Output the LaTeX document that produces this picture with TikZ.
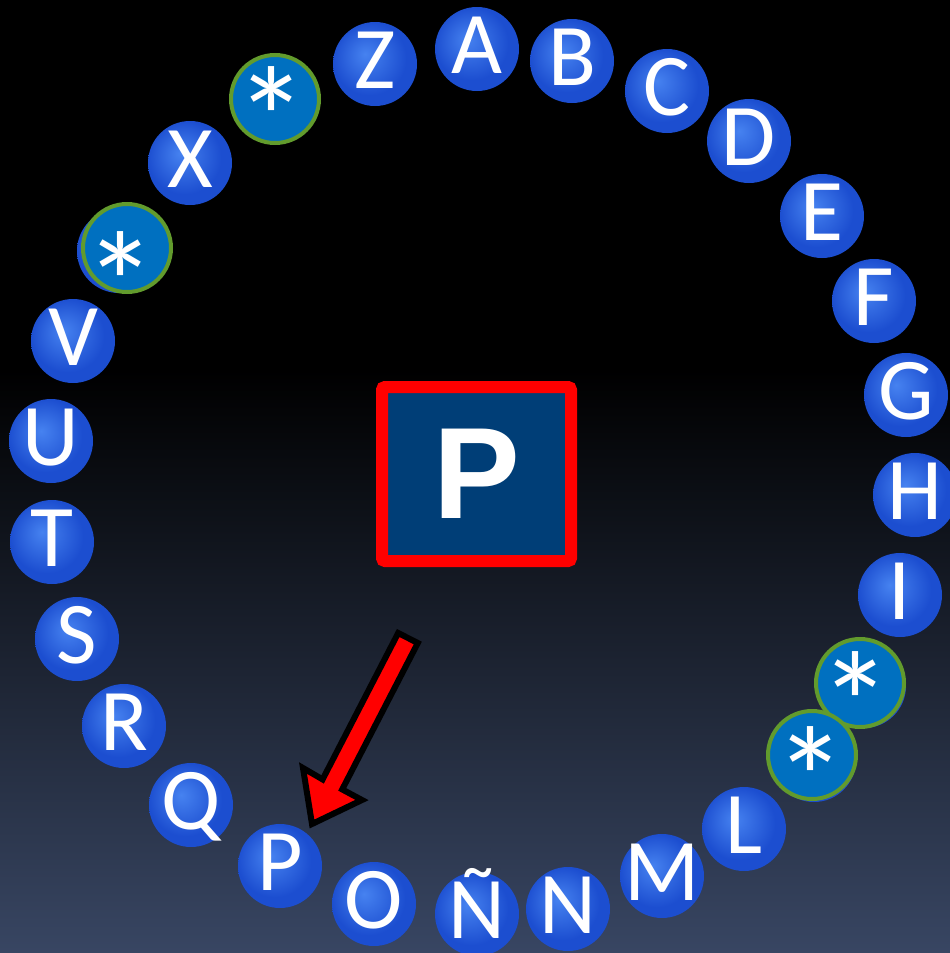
\documentclass[tikz,border=0pt]{standalone}
\usepackage{fontspec}
\newfontfamily\ballfont{Carlito}
\newfontfamily\boxfont{Liberation Sans}
\definecolor{ballhi}{RGB}{70,130,240}
\definecolor{ballmid}{RGB}{28,78,208}
\definecolor{balledge}{RGB}{16,46,155}
\definecolor{starfill}{RGB}{0,112,192}
\definecolor{starring}{RGB}{98,155,45}
\definecolor{boxfill}{RGB}{0,62,119}
\definecolor{bgbottom}{RGB}{74,92,130}
\pgfdeclareradialshading{ballshade}{\pgfpoint{-6bp}{6bp}}{color(0bp)=(ballhi); color(22bp)=(ballmid); color(42bp)=(ballmid); color(50bp)=(balledge)}
\newcommand\ltr[1]{\makebox[0pt]{\smash{\raisebox{-24pt}{\fontsize{88}{88}\ballfont\selectfont #1}}}}
\newcommand\astk[2]{\makebox[0pt]{\kern#1\relax\smash{\raisebox{#2}{\fontsize{145}{145}\ballfont\selectfont *}}\kern-#1\relax}}
\tikzset{
  ball/.style={circle, minimum size=84pt, inner sep=0pt, shading=ballshade, text=white},
  starball/.style={circle, minimum size=88pt, inner sep=0pt, fill=starfill, draw=starring, line width=4pt, text=white},
  pbox/.style={draw=red, line width=12pt, fill=boxfill, minimum width=189pt, minimum height=174pt, rounded corners=3pt, text=white, inner sep=0pt, font=\fontsize{130}{130}\boxfont\bfseries\selectfont},
  bigarrow/.style={fill=red, draw=black, line width=6pt, line join=miter}
}
\begin{document}
\begin{tikzpicture}[x=1pt,y=-1pt]
\clip (0,0) rectangle (950,953);
\fill[black] (0,0) rectangle (950,953);
\shade[top color=black, bottom color=bgbottom] (0,370) rectangle (950,1140);
% hidden balls behind stars
\node[ball] (W) at (119,251) {};
\node[ball] (J) at (864,686) {};
\node[ball] (K) at (814,760) {};
% letter balls
\node[ball] (A) at (477,49) {\ltr{A}};
\node[ball] (B) at (572,61) {\ltr{B}};
\node[ball] (C) at (667,91) {\ltr{C}};
\node[ball] (D) at (749,141) {\ltr{D}};
\node[ball] (E) at (822,216) {\ltr{E}};
\node[ball] (F) at (874,301) {\ltr{F}};
\node[ball] (G) at (906,395) {\ltr{G}};
\node[ball] (H) at (915,495) {\ltr{H}};
\node[ball] (I) at (900,595) {\ltr{I}};
\node[ball] (L) at (744,829) {\ltr{L}};
\node[ball] (M) at (662,876) {\ltr{M}};
\node[ball] (N) at (568,909) {\ltr{N}};
\node[ball] (NN) at (477,914) {\ltr{Ñ}};
\node[ball] (O) at (374,904) {\ltr{O}};
\node[ball] (P) at (280,866) {\ltr{P}};
\node[ball] (Q) at (191,805) {\ltr{Q}};
\node[ball] (R) at (124,726) {\ltr{R}};
\node[ball] (S) at (77,639) {\ltr{S}};
\node[ball] (T) at (52,542) {\ltr{T}};
\node[ball] (U) at (51,441) {\ltr{U}};
\node[ball] (V) at (73,341) {\ltr{V}};
\node[ball] (X) at (190,163) {\ltr{X}};
\node[ball] (Z) at (375,64) {\ltr{Z}};
% star balls
\node[starball] (S1) at (275,99) {\astk{-3.5pt}{-70pt}};
\node[starball] (S2) at (127,248) {\astk{-6pt}{-86pt}};
\node[starball] (S3) at (860,683) {\astk{-4pt}{-71pt}};
\node[starball] (S4) at (812,755) {\astk{-1pt}{-74pt}};
% centre sign
\node[pbox] (sign) at (476.5,474) {P};
% arrow
\coordinate (t1) at (398.2,633);
\coordinate (t2) at (417.8,643);
\coordinate (b1) at (322.6,779.4);
\coordinate (b2) at (342.2,789.4);
\coordinate (w1) at (303,768);
\coordinate (w2) at (362,800);
\coordinate (tip) at (312,824);
\draw[bigarrow] (t1) -- (b1) -- (w1) -- (tip) -- (w2) -- (b2) -- (t2) -- cycle;
\end{tikzpicture}
\end{document}
